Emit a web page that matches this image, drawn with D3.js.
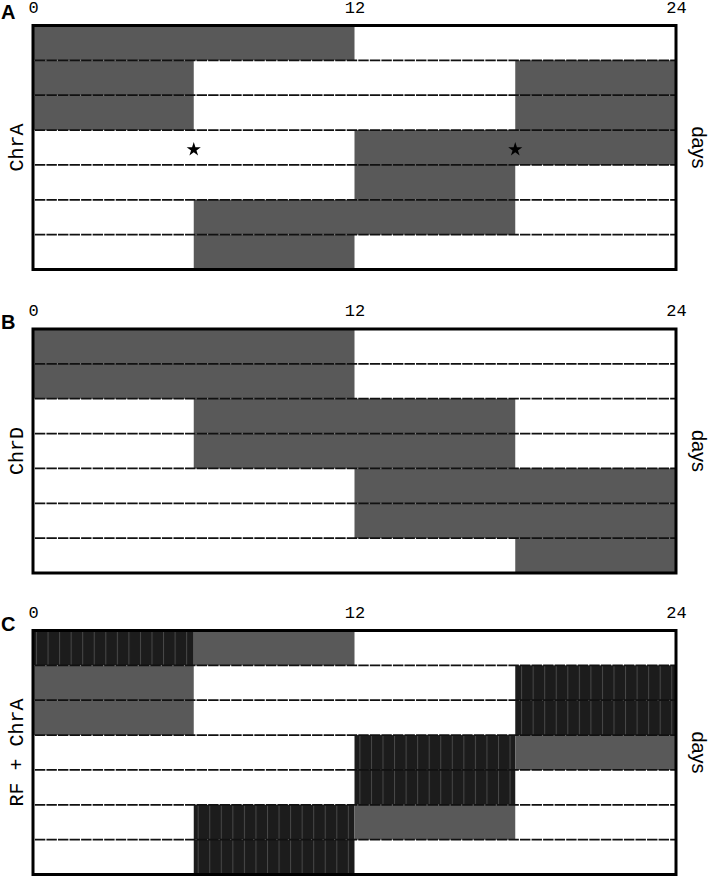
<!DOCTYPE html>
<html>
<head>
<meta charset="utf-8">
<script src="https://cdn.jsdelivr.net/npm/d3@7"></script>
<style>
body { margin: 0; background: #fff; }
</style>
</head>
<body>
<svg id="chart" width="709" height="876"></svg>
<script>

// hour ticks on top of each panel
var hourTicks = [0, 12, 24];
var panelNames = ["A", "B", "C"];
var rowNames = ["ChrA", "ChrD", "RF + ChrA"];
var dayCount = 7;

// [day, startHour, endHour, kind]  kind: "gray" or "stripe"
var chrA = [
	[0, 0, 12, "gray"],
	[1, 0, 6, "gray"], [1, 18, 24, "gray"],
	[2, 0, 6, "gray"], [2, 18, 24, "gray"],
	[3, 12, 24, "gray"],
	[4, 12, 18, "gray"],
	[5, 6, 18, "gray"],
	[6, 6, 12, "gray"]];

var chrAStars = [[3, 6], [3, 18]];

var chrD = [
	[0, 0, 12, "gray"],
	[1, 0, 12, "gray"],
	[2, 6, 18, "gray"],
	[3, 6, 18, "gray"],
	[4, 12, 24, "gray"],
	[5, 12, 24, "gray"],
	[6, 18, 24, "gray"]];

var rfChrA = [
	[0, 0, 6, "stripe"], [0, 6, 12, "gray"],
	[1, 0, 6, "gray"], [1, 18, 24, "stripe"],
	[2, 0, 6, "gray"], [2, 18, 24, "stripe"],
	[3, 12, 18, "stripe"], [3, 18, 24, "gray"],
	[4, 12, 18, "stripe"],
	[5, 6, 12, "stripe"], [5, 12, 18, "gray"],
	[6, 6, 12, "stripe"]];

var panelSegments = [chrA, chrD, rfChrA];
var panelStars = [chrAStars, [], []];

var panelTop = [25.5, 329, 630.5];
var panelHeight = 244;

var svg = d3.select("#chart");
var x = d3.scaleLinear().domain([0, 24]).range([33, 676]);

// stripes for panel C
var pat = svg.append("defs").append("pattern")
	.attr("id", "stripes")
	.attr("patternUnits", "userSpaceOnUse")
	.attr("x", 36).attr("y", 0)
	.attr("width", 11.55).attr("height", 20);
pat.append("rect").attr("width", 11.55).attr("height", 20).attr("fill", "#1c1c1c");
pat.append("rect").attr("x", 0).attr("width", 1).attr("height", 20).attr("fill", "#484848");

var drawPanel = function(i) {
	var top = panelTop[i];
	var y = d3.scaleBand().domain(d3.range(dayCount)).range([top, top + panelHeight]);
	var g = svg.append("g");

	g.append("rect")
		.attr("x", x(0)).attr("y", top)
		.attr("width", x(24) - x(0)).attr("height", panelHeight)
		.attr("fill", "#fff");

	g.selectAll("rect.seg").data(panelSegments[i]).enter().append("rect")
		.attr("class", "seg")
		.attr("x", function(d) { return x(d[1]); })
		.attr("y", function(d) { return y(d[0]); })
		.attr("width", function(d) { return x(d[2]) - x(d[1]); })
		.attr("height", y.bandwidth())
		.attr("fill", function(d) { return d[3] == "stripe" ? "url(#stripes)" : "#595959"; });

	// dashed day separators
	g.selectAll("line.day").data(d3.range(1, dayCount)).enter().append("line")
		.attr("class", "day")
		.attr("x1", x(0)).attr("x2", x(24))
		.attr("y1", function(d) { return y(d); })
		.attr("y2", function(d) { return y(d); })
		.attr("stroke", "#111")
		.attr("stroke-width", 1.7)
		.attr("stroke-dasharray", "10.4,1.15")
		.attr("stroke-dashoffset", -1.9);

	g.selectAll("path.star").data(panelStars[i]).enter().append("path")
		.attr("class", "star")
		.attr("d", d3.symbol().type(d3.symbolStar).size(62))
		.attr("transform", function(d) { return "translate(" + x(d[1]) + "," + (y(d[0]) + y.bandwidth() / 2 + 2) + ")"; })
		.attr("fill", "#000");

	g.append("rect")
		.attr("x", x(0)).attr("y", top)
		.attr("width", x(24) - x(0)).attr("height", panelHeight)
		.attr("fill", "none")
		.attr("stroke", "#000")
		.attr("stroke-width", 3);

	// hour axis
	var axis = d3.axisTop(x).tickValues(hourTicks).tickSize(0).tickPadding(0);
	var ax = g.append("g").attr("transform", "translate(0," + (top - 13) + ")").call(axis);
	ax.select(".domain").remove();
	ax.selectAll("text")
		.attr("y", 0).attr("dy", 0)
		.style("font-family", "'Liberation Mono', 'DejaVu Sans Mono', monospace")
		.style("font-size", "17px")
		.attr("fill", "#000");

	g.append("text")
		.attr("x", 1).attr("y", i == 0 ? top - 7 : top)
		.style("font-family", "'Liberation Sans', Arial, sans-serif")
		.style("font-weight", "bold")
		.style("font-size", "20px")
		.text(panelNames[i]);

	var mid = top + panelHeight / 2;
	g.append("text")
		.attr("transform", "translate(23," + mid + ") rotate(-90)")
		.attr("text-anchor", "middle")
		.style("font-family", "'Liberation Mono', 'DejaVu Sans Mono', monospace")
		.style("font-size", "20px")
		.text(rowNames[i]);

	g.append("text")
		.attr("transform", "translate(692," + mid + ") rotate(90)")
		.attr("text-anchor", "middle")
		.style("font-family", "'Liberation Sans', Arial, sans-serif")
		.style("font-size", "20px")
		.text("days");
};

panelNames.forEach(function(n, i) { drawPanel(i); });

</script>
</body>
</html>
